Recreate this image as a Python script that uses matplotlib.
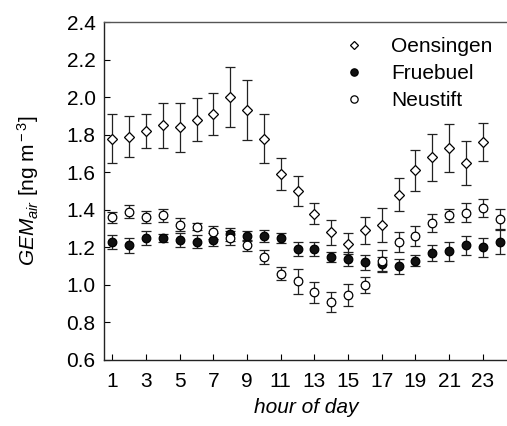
import matplotlib
matplotlib.use("Agg")
import matplotlib.pyplot as plt
from matplotlib.lines import Line2D
import numpy as np

plt.rcParams["font.family"] = ["Liberation Sans", "DejaVu Sans"]
plt.rcParams["mathtext.fontset"] = "custom"
plt.rcParams["mathtext.it"] = "Liberation Sans:italic"
plt.rcParams["mathtext.rm"] = "Liberation Sans"

hours_oen = list(range(1, 24))
hours = list(range(1, 25))

oensingen = [1.78, 1.79, 1.82, 1.85, 1.84, 1.88, 1.91, 2.00, 1.93, 1.78, 1.59, 1.50,
             1.38, 1.28, 1.22, 1.29, 1.32, 1.48, 1.61, 1.68, 1.73, 1.65, 1.76]
oensingen_err = [0.13, 0.11, 0.09, 0.12, 0.13, 0.115, 0.113, 0.16, 0.16, 0.13, 0.087, 0.08,
                 0.056, 0.065, 0.055, 0.074, 0.09, 0.087, 0.11, 0.126, 0.128, 0.118, 0.10]

fruebuel = [1.23, 1.21, 1.25, 1.25, 1.24, 1.23, 1.24, 1.27, 1.26, 1.26, 1.25, 1.19,
            1.19, 1.15, 1.14, 1.12, 1.11, 1.10, 1.13, 1.17, 1.18, 1.21, 1.20, 1.23]
fruebuel_err = [0.037, 0.04, 0.038, 0.02, 0.037, 0.036, 0.035, 0.035, 0.025, 0.03, 0.028, 0.037,
                0.037, 0.027, 0.037, 0.039, 0.04, 0.04, 0.031, 0.041, 0.051, 0.053, 0.051, 0.063]

neustift = [1.36, 1.39, 1.36, 1.37, 1.32, 1.31, 1.28, 1.25, 1.21, 1.15, 1.06, 1.02,
            0.96, 0.91, 0.945, 1.00, 1.13, 1.23, 1.26, 1.33, 1.37, 1.385, 1.41, 1.35]
neustift_err = [0.03, 0.036, 0.032, 0.037, 0.035, 0.02, 0.035, 0.036, 0.03, 0.037, 0.034, 0.066,
                0.057, 0.052, 0.058, 0.043, 0.055, 0.053, 0.053, 0.047, 0.033, 0.05, 0.05, 0.052]

fig = plt.figure(figsize=(5.07, 4.26), dpi=100)
ax = fig.add_axes([0.205, 0.155, 0.797, 0.793])

err_kw = dict(ecolor="#222222", elinewidth=0.9, capsize=3.3, capthick=0.9, linestyle="none")
styles = {
    "Oensingen": dict(marker="D", markersize=5.2, markerfacecolor="white"),
    "Fruebuel": dict(marker="o", markersize=6.2, markerfacecolor="#111111"),
    "Neustift": dict(marker="o", markersize=6.2, markerfacecolor="white"),
}
ax.errorbar(hours_oen, oensingen, yerr=oensingen_err, markeredgecolor="black",
            markeredgewidth=0.9, **styles["Oensingen"], **err_kw)
ax.errorbar(hours, fruebuel, yerr=fruebuel_err, markeredgecolor="black",
            markeredgewidth=0.9, **styles["Fruebuel"], **err_kw)
ax.errorbar(hours, neustift, yerr=neustift_err, markeredgecolor="black",
            markeredgewidth=0.9, **styles["Neustift"], **err_kw)

ax.set_xlim(0.5, 24.5)
ax.set_ylim(0.6, 2.4)
ax.set_xticks(range(1, 24, 2))
yt = np.arange(0.6, 2.41, 0.2)
ax.set_yticks(yt)
ax.set_yticklabels([f"{v:.1f}" for v in yt])
ax.tick_params(axis="both", direction="in", length=4.5, width=0.8, labelsize=15, colors="black")
ax.tick_params(axis="x", pad=9)
ax.tick_params(axis="y", pad=6)
ax.tick_params(top=False, right=False)

ax.spines["right"].set_visible(False)
for side in ["left", "bottom"]:
    ax.spines[side].set_color("#222222")
    ax.spines[side].set_linewidth(1.0)
ax.spines["top"].set_color("#555555")
ax.spines["top"].set_linewidth(1.0)

ax.set_xlabel("hour of day", fontsize=15, style="italic", labelpad=5)
ax.set_ylabel(r"$GEM_{air}$ [ng m$^{\rm -3}$]", fontsize=15, labelpad=18)

handles = [Line2D([], [], linestyle="none", markeredgecolor="black", markeredgewidth=0.9,
                  **{k: v for k, v in s.items() if k != "markersize"},
                  markersize=s["markersize"] * 0.85)
           for s in styles.values()]
ax.legend(handles, list(styles.keys()), loc="upper left", bbox_to_anchor=(0.553, 1.011),
          frameon=False, fontsize=15, handletextpad=1.35, labelspacing=0.39, handlelength=0.8)

fig.savefig("out.png", dpi=100)
